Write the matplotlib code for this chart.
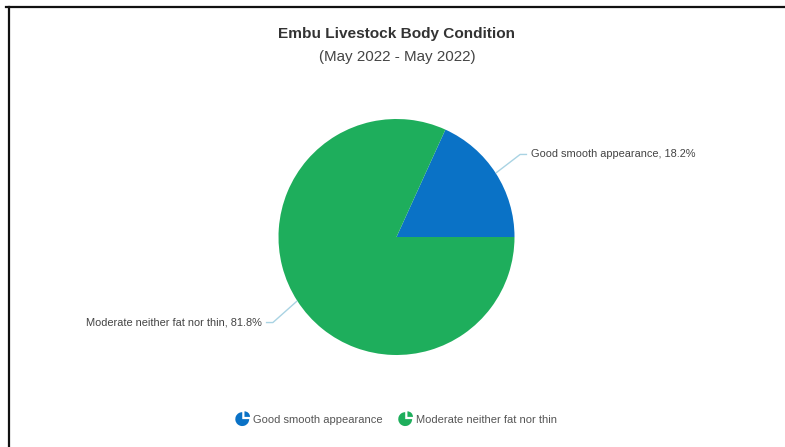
import numpy as np
import matplotlib
matplotlib.use("Agg")
import matplotlib.pyplot as plt
from matplotlib.patches import Wedge
from matplotlib.legend_handler import HandlerPatch
from matplotlib.lines import Line2D

# data
categories = ["Good smooth appearance", "Moderate neither fat nor thin"]
shares = [18.2, 81.8]
colors = ["#0a72c6", "#1eae5c"]
title = "Embu Livestock Body Condition"
subtitle = "(May 2022 - May 2022)"

W, H = 785, 447
plt.rcParams['font.family'] = ['Liberation Sans', 'DejaVu Sans']

fig = plt.figure(figsize=(W / 100, H / 100), dpi=100)
ax = fig.add_axes([0, 0, 1, 1])

cx, cy, r = 396.5, H - 237, 118
wedges, _ = ax.pie(shares, colors=colors, startangle=0, counterclock=True,
                   center=(cx, cy), radius=r, frame=True,
                   wedgeprops=dict(linewidth=0))

ax.set_xlim(0, W)
ax.set_ylim(0, H)
ax.set_aspect('equal')
ax.axis('off')

# titles
ax.text(W / 2 + 4.5, H - 34, title, ha='center', va='center', fontsize=11.1,
        fontweight='bold', color='#333333')
ax.text(W / 2 + 4.5, H - 57, subtitle, ha='center', va='center', fontsize=10.9,
        color='#444444')

# data labels with connectors
for w, cat, val in zip(wedges, categories, shares):
    mid = np.deg2rad((w.theta1 + w.theta2) / 2)
    ex, ey = cx + r * np.cos(mid), cy + r * np.sin(mid)
    shift = 3 if np.sin(mid) > 0 else -6
    kx, ky = cx + 147 * np.cos(mid), cy + 147 * np.sin(mid) + shift
    side = 1 if np.cos(mid) > 0 else -1
    hx = kx + side * 7
    ax.plot([ex, kx, hx], [ey, ky, ky], color='#a9d3e3', lw=1, solid_capstyle='butt')
    ax.text(hx + side * 4, ky, f"{cat}, {val}%", ha='left' if side > 0 else 'right',
            va='center', fontsize=7.95, color='#444444')


# legend with small pie icons
class PieIconHandler(HandlerPatch):
    def create_artists(self, legend, orig_handle, xdescent, ydescent, width, height,
                       fontsize, trans):
        c = orig_handle.get_facecolor()
        x0 = width / 2 - xdescent
        y0 = height / 2 - ydescent
        rad = 5
        main = Wedge((x0, y0), rad, 90, 360, facecolor=c, edgecolor='none', transform=trans)
        piece = Wedge((x0 + 1.6, y0 + 1.6), rad * 0.8, 0, 90, facecolor=c, edgecolor='none',
                      transform=trans)
        return [main, piece]


leg = ax.legend(wedges, categories, loc='center', bbox_to_anchor=(397 / W, 1 - 420 / H),
                ncol=2, frameon=False, fontsize=8.0, handlelength=1.0, handletextpad=0.5,
                columnspacing=1.5, labelcolor='#555555',
                handler_map={Wedge: PieIconHandler()})
for t in leg.get_texts():
    t.set_color('#555555')

# screenshot frame lines
fig.add_artist(Line2D([6 / W, 1], [1 - 6.5 / H, 1 - 6.5 / H], transform=fig.transFigure,
                      color='#111111', lw=1.6))
fig.add_artist(Line2D([8.5 / W, 8.5 / W], [0, 1 - 6.5 / H], transform=fig.transFigure,
                      color='#111111', lw=1.6))

fig.savefig('out.png', dpi=100)
